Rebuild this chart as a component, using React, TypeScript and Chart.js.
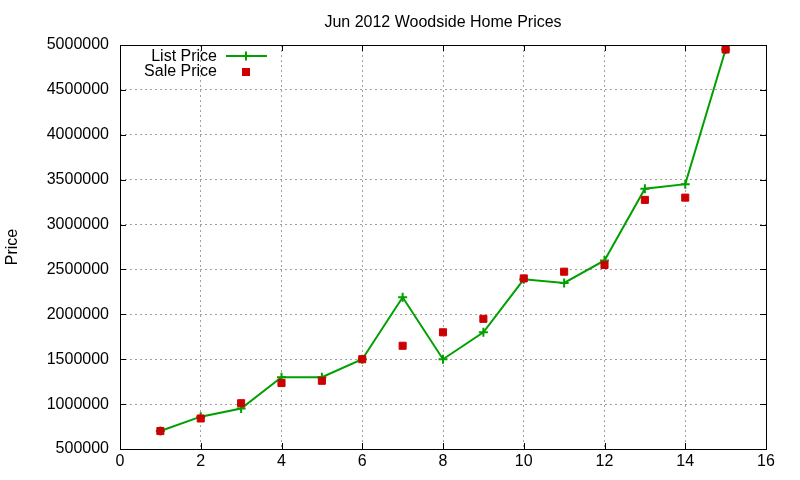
import React, { useEffect, useRef } from "react";
import { Chart, registerables, Plugin } from "chart.js";

Chart.register(...registerables);

// house index within the month (x) and prices (y)
const homes = [1, 2, 3, 4, 5, 6, 7, 8, 9, 10, 11, 12, 13, 14, 15];
const listPrice = [
  700000, 860000, 950000, 1300000, 1300000, 1500000, 2190000, 1500000,
  1800000, 2390000, 2350000, 2600000, 3400000, 3450000, 4950000,
];
const salePrice = [
  700000, 840000, 1010000, 1235000, 1260000, 1500000, 1650000, 1800000,
  1950000, 2400000, 2475000, 2550000, 3275000, 3300000, 4950000,
];
const xTicks = [0, 2, 4, 6, 8, 10, 12, 14, 16];
const yTicks = [
  500000, 1000000, 1500000, 2000000, 2500000, 3000000, 3500000, 4000000,
  4500000, 5000000,
];

const TITLE = "Jun 2012 Woodside Home Prices";
const Y_LABEL = "Price";
const FONT = "'Liberation Sans', Arial, sans-serif";
const GREEN = "#00a000";
const RED = "#cc0000";

// gnuplot look: title, rotated y label, full border with inward ticks, legend inside
const gnuplotFrame: Plugin<"line"> = {
  id: "gnuplotFrame",
  afterDraw(chart) {
    const { ctx, chartArea: a } = chart;
    const xs = chart.scales.x;
    const ys = chart.scales.y;
    ctx.save();

    ctx.fillStyle = "#000";
    ctx.font = `16px ${FONT}`;
    ctx.textAlign = "center";
    ctx.textBaseline = "middle";
    ctx.fillText(TITLE, (a.left + a.right) / 2, 22.5);

    ctx.save();
    ctx.translate(13, (a.top + a.bottom) / 2);
    ctx.rotate(-Math.PI / 2);
    ctx.fillText(Y_LABEL, 0, 0);
    ctx.restore();

    ctx.strokeStyle = "#000";
    ctx.lineWidth = 1;
    ctx.beginPath();
    const tl = 6;
    xTicks.forEach((t) => {
      const px = Math.round(xs.getPixelForValue(t)) + 0.5;
      ctx.moveTo(px, a.bottom);
      ctx.lineTo(px, a.bottom - tl);
      ctx.moveTo(px, a.top);
      ctx.lineTo(px, a.top + tl);
    });
    yTicks.forEach((t) => {
      const py = Math.round(ys.getPixelForValue(t)) + 0.5;
      ctx.moveTo(a.left, py);
      ctx.lineTo(a.left + tl, py);
      ctx.moveTo(a.right, py);
      ctx.lineTo(a.right - tl, py);
    });
    ctx.stroke();
    ctx.strokeRect(
      Math.round(a.left) + 0.5,
      Math.round(a.top) + 0.5,
      Math.round(a.right - a.left),
      Math.round(a.bottom - a.top)
    );

    // legend
    ctx.textAlign = "right";
    ctx.fillText("List Price", 217, 57);
    ctx.fillText("Sale Price", 217, 72);
    ctx.strokeStyle = GREEN;
    ctx.lineWidth = 2;
    ctx.beginPath();
    ctx.moveTo(226, 56);
    ctx.lineTo(267, 56);
    ctx.moveTo(246, 51.5);
    ctx.lineTo(246, 60.5);
    ctx.stroke();
    ctx.fillStyle = RED;
    ctx.fillRect(242, 68, 8, 8);

    ctx.restore();
  },
};

export default function App() {
  const canvasRef = useRef<HTMLCanvasElement>(null);

  useEffect(() => {
    if (!canvasRef.current) return;
    const ctx = canvasRef.current.getContext("2d")!;

    const chart = new Chart(ctx, {
      type: "line",
      data: {
        datasets: [
          {
            label: "List Price",
            data: homes.map((x, i) => ({ x, y: listPrice[i] })),
            borderColor: GREEN,
            backgroundColor: GREEN,
            borderWidth: 2,
            pointStyle: "cross",
            pointRadius: 4.5,
            pointBorderWidth: 2,
            tension: 0,
            order: 1,
          },
          {
            label: "Sale Price",
            data: homes.map((x, i) => ({ x, y: salePrice[i] })),
            showLine: false,
            borderColor: RED,
            backgroundColor: RED,
            pointStyle: "rect",
            pointRadius: 5,
            pointBorderWidth: 1,
            order: 0,
          },
        ],
      },
      options: {
        responsive: true,
        maintainAspectRatio: false,
        animation: false,
        layout: { padding: { top: 45, right: 34, left: 0, bottom: 0 } },
        plugins: {
          legend: { display: false },
          title: { display: false },
          tooltip: { enabled: false },
        },
        scales: {
          x: {
            type: "linear",
            min: 0,
            max: 16,
            afterFit: (s) => {
              s.height = 31;
            },
            afterBuildTicks: (s) => {
              s.ticks = xTicks.map((value) => ({ value }));
            },
            ticks: {
              color: "#000",
              padding: 3,
              font: { family: FONT, size: 16 },
            },
            grid: { color: "#a0a0a0", drawTicks: false, lineWidth: 1 },
            border: { display: false, dash: [2, 3] },
          },
          y: {
            type: "linear",
            min: 500000,
            max: 5000000,
            afterFit: (s) => {
              s.width = 120;
            },
            afterBuildTicks: (s) => {
              s.ticks = yTicks.map((value) => ({ value }));
            },
            ticks: {
              color: "#000",
              padding: 11,
              font: { family: FONT, size: 16 },
              callback: (v) => String(v),
            },
            grid: { color: "#a0a0a0", drawTicks: false, lineWidth: 1 },
            border: { display: false, dash: [2, 3] },
          },
        },
      },
      plugins: [gnuplotFrame],
    });

    return () => chart.destroy();
  }, []);

  return (
    <div style={{ position: "fixed", left: 0, top: 0, width: 800, height: 480, background: "#fff" }}>
      <canvas ref={canvasRef} />
    </div>
  );
}
